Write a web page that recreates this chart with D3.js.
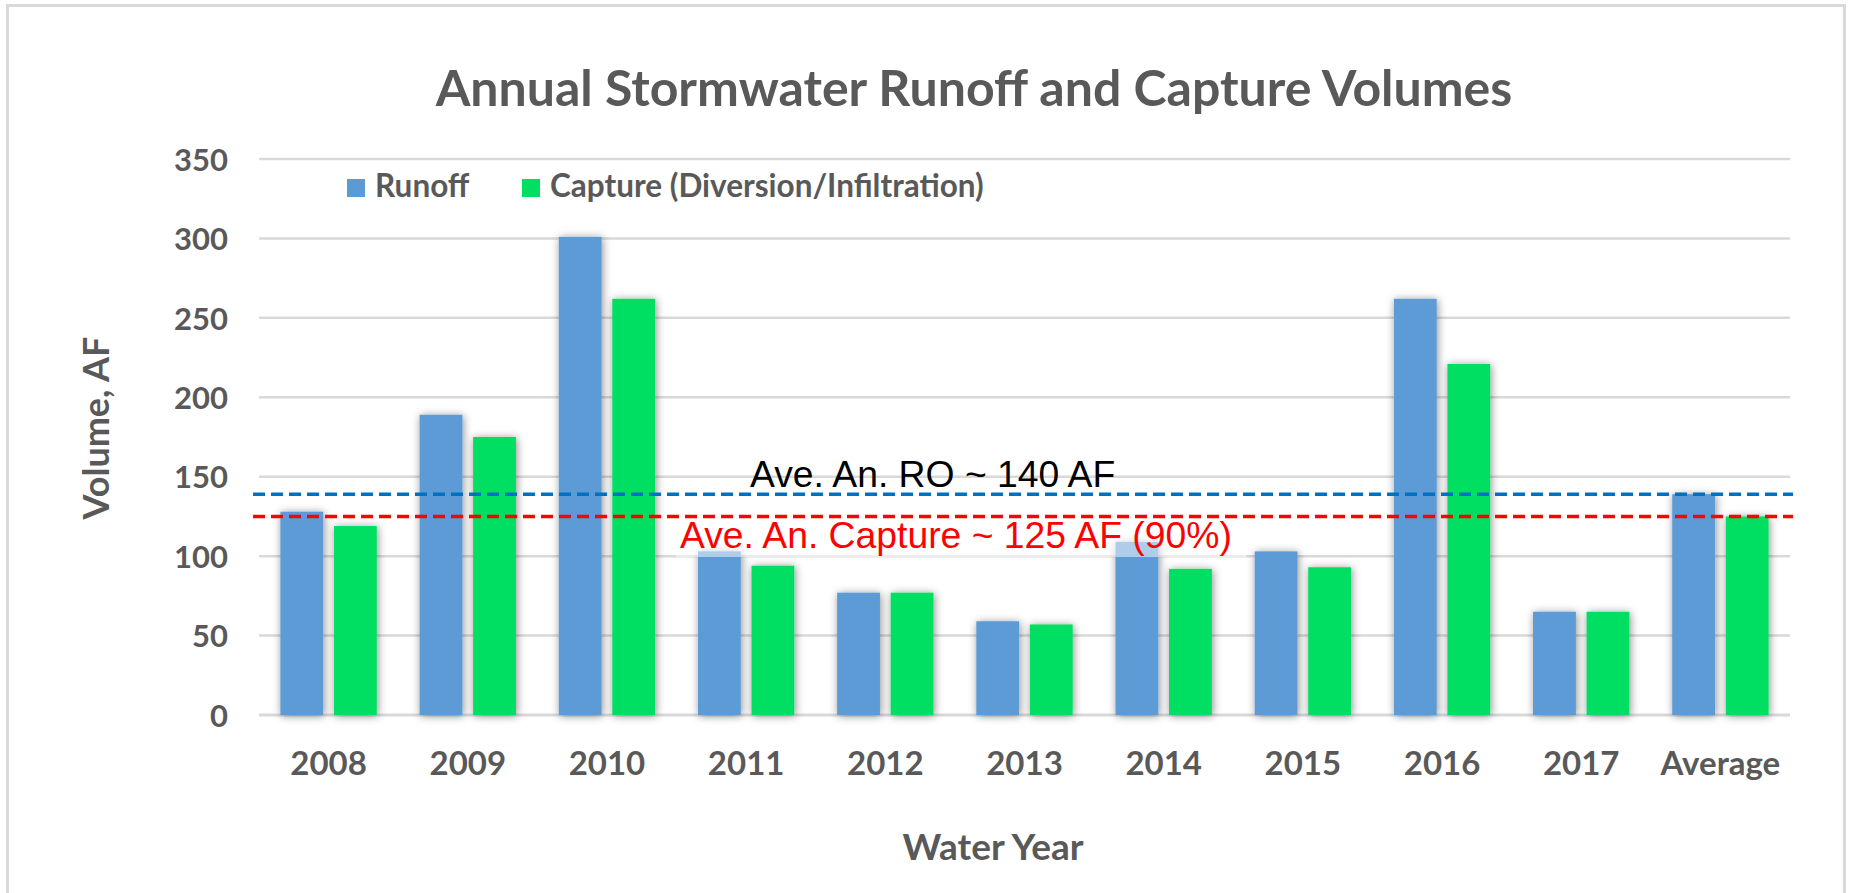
<!DOCTYPE html>
<html>
<head>
<meta charset="utf-8">
<script src="https://cdn.jsdelivr.net/npm/d3@7"></script>
<style>
    body { margin: 0; background: #fff; }
    svg { display: block; }
</style>
</head>
<body>
<svg id="chart"></svg>
<script>
// Data
let years = ["2008", "2009", "2010", "2011", "2012", "2013", "2014", "2015", "2016", "2017", "Average"];
let seriesNames = ["Runoff", "Capture (Diversion/Infiltration)"];
let runoff = [128, 189, 301, 103, 77, 59, 109, 103, 262, 65, 139];
let capture = [119, 175, 262, 94, 77, 57, 92, 93, 221, 65, 125];
let yTicks = [0, 50, 100, 150, 200, 250, 300, 350];
let aveRunoff = 139,
    aveCapture = 125;

// Layout variables
let width = 1849,
    height = 893;
let plot = { left: 259, right: 1790, top: 159, bottom: 715 };
let colors = ["#5b9bd5", "#00df62"];
let textGray = "#595959";
let fontUi = "Lato, 'Open Sans', sans-serif";

let svg = d3.select("#chart")
    .attr("width", width)
    .attr("height", height);

// Outer chart border
svg.append("rect")
    .attr("x", 7.5).attr("y", 5.5)
    .attr("width", 1837).attr("height", 1000)
    .attr("fill", "#fff")
    .attr("stroke", "#d9d9d9")
    .attr("stroke-width", 3);

// Bar shadow
let defs = svg.append("defs");
defs.append("filter")
    .attr("id", "shadow")
    .attr("x", "-50%").attr("y", "-10%")
    .attr("width", "200%").attr("height", "120%")
    .append("feDropShadow")
    .attr("dx", 1).attr("dy", 1)
    .attr("stdDeviation", 4)
    .attr("flood-color", "#000")
    .attr("flood-opacity", 0.45);

// Scales
let x0 = d3.scaleBand()
    .domain(years)
    .range([plot.left, plot.right]);
let x1 = d3.scaleBand()
    .domain(seriesNames)
    .range([0, x0.bandwidth()])
    .paddingInner(0.2)
    .paddingOuter(0.4);
let y = d3.scaleLinear()
    .domain([0, 350])
    .range([plot.bottom, plot.top]);

// Gridlines
svg.append("g")
    .selectAll("line")
    .data(yTicks)
    .join("line")
    .attr("x1", plot.left)
    .attr("x2", plot.right)
    .attr("y1", d => y(d))
    .attr("y2", d => y(d))
    .attr("stroke", "#d9d9d9")
    .attr("stroke-width", d => d == 0 ? 3 : 2.5);

// Y axis tick labels
let yAxis = svg.append("g")
    .attr("transform", `translate(${plot.left - 31},0)`)
    .call(d3.axisLeft(y).tickValues(yTicks).tickSize(0).tickPadding(0));
yAxis.select(".domain").remove();
yAxis.selectAll("text")
    .attr("dy", "0.36em")
    .attr("fill", textGray)
    .style("font-family", fontUi)
    .style("font-weight", "bold")
    .style("font-size", "31px");

// X axis tick labels
let xAxis = svg.append("g")
    .attr("transform", `translate(0,${plot.bottom + 60})`)
    .call(d3.axisBottom(x0).tickSize(0).tickPadding(0));
xAxis.select(".domain").remove();
xAxis.selectAll("text")
    .attr("dy", 0)
    .attr("fill", textGray)
    .style("font-family", fontUi)
    .style("font-weight", "bold")
    .style("font-size", "33px");

// Bars
let rows = years.map((yr, i) => ({ year: yr, values: [runoff[i], capture[i]] }));
svg.append("g")
    .selectAll("g")
    .data(rows)
    .join("g")
    .attr("transform", d => `translate(${x0(d.year)},0)`)
    .selectAll("rect")
    .data(d => d.values.map((v, j) => ({ key: seriesNames[j], value: v, color: colors[j] })))
    .join("rect")
    .attr("x", d => x1(d.key))
    .attr("width", x1.bandwidth())
    .attr("y", d => y(d.value))
    .attr("height", d => y(0) - y(d.value))
    .attr("fill", d => d.color)
    .attr("filter", "url(#shadow)");

// Semi-transparent box behind the capture label
svg.append("rect")
    .attr("x", 676).attr("y", 520)
    .attr("width", 570).attr("height", 37)
    .attr("fill", "#fff")
    .attr("fill-opacity", 0.5);

// Average dashed lines
let aveLines = [
    { value: aveRunoff, color: "#0070c0" },
    { value: aveCapture, color: "#ff0000" }
];
svg.append("g")
    .selectAll("line")
    .data(aveLines)
    .join("line")
    .attr("x1", plot.left - 6)
    .attr("x2", plot.right + 3)
    .attr("y1", d => y(d.value))
    .attr("y2", d => y(d.value))
    .attr("stroke", d => d.color)
    .attr("stroke-width", 3.5)
    .attr("stroke-dasharray", "12,6");

// Annotations
svg.append("text")
    .attr("x", 750).attr("y", 487)
    .attr("fill", "#000")
    .style("font-family", "'Liberation Sans', Arial, sans-serif")
    .style("font-size", "37.3px")
    .text("Ave. An. RO ~ 140 AF");
svg.append("text")
    .attr("x", 680).attr("y", 548)
    .attr("fill", "#ff0000")
    .style("font-family", "'Liberation Sans', Arial, sans-serif")
    .style("font-size", "37.3px")
    .text("Ave. An. Capture ~ 125 AF (90%)");

// Title
svg.append("text")
    .attr("x", 974).attr("y", 106)
    .attr("text-anchor", "middle")
    .attr("fill", textGray)
    .style("font-family", fontUi)
    .style("font-weight", "bold")
    .style("font-size", "50px")
    .text("Annual Stormwater Runoff and Capture Volumes");

// Axis titles
svg.append("text")
    .attr("transform", "translate(109,428) rotate(-90)")
    .attr("text-anchor", "middle")
    .attr("fill", textGray)
    .style("font-family", fontUi)
    .style("font-weight", "bold")
    .style("font-size", "36px")
    .text("Volume, AF");
svg.append("text")
    .attr("x", 993).attr("y", 860)
    .attr("text-anchor", "middle")
    .attr("fill", textGray)
    .style("font-family", fontUi)
    .style("font-weight", "bold")
    .style("font-size", "37px")
    .text("Water Year");

// Legend
let legendX = [347, 522];
let legend = svg.append("g")
    .selectAll("g")
    .data(seriesNames)
    .join("g")
    .attr("transform", (d, i) => `translate(${legendX[i]},179)`);
legend.append("rect")
    .attr("width", 18).attr("height", 18)
    .attr("fill", (d, i) => colors[i]);
legend.append("text")
    .attr("x", 28).attr("y", 18)
    .attr("fill", textGray)
    .style("font-family", fontUi)
    .style("font-weight", "bold")
    .style("font-size", "31.5px")
    .text(d => d);
</script>
</body>
</html>
